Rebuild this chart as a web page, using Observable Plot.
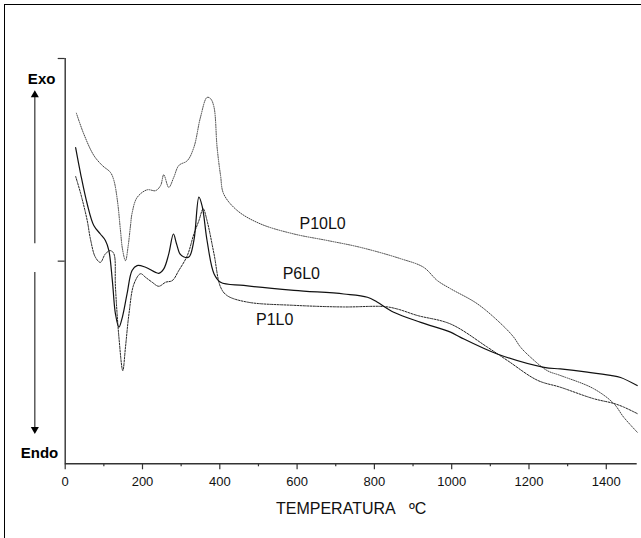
<!DOCTYPE html>
<html>
<head>
<meta charset="utf-8">
<script src="https://cdn.jsdelivr.net/npm/d3@7"></script>
<script src="https://cdn.jsdelivr.net/npm/@observablehq/plot@0.6"></script>
<style>
  html, body { margin: 0; padding: 0; background: #fff; overflow: hidden; width: 641px; height: 538px; }
  #wrap { position: relative; width: 641px; height: 538px; overflow: hidden; }
  #frame { position: absolute; left: 4px; top: 4px; width: 700px; height: 700px; border: 1.5px solid #000; pointer-events: none; }
  #chart { position: absolute; left: 0; top: 0; }
</style>
</head>
<body>
<div id="wrap"><div id="chart"></div><div id="frame"></div></div>
<script>
// DTA curves: temperature (ºC) and signal (arbitrary units)
const p10T = [29,48,74,96,117,126,135,143,148,156,163,169,173,186,212,234,247,255,268,281,294,316,333,350,367,376,385,393,402,410,445,505,592,678,764,868,927,963,997,1066,1127,1160,1178,1204,1247,1281,1366,1419,1445,1480];
const p10V = [86.5,81.4,76.1,73.6,71.9,69.9,65.0,57.6,53.1,50.1,53.8,58.8,61.8,65.7,67.6,67.4,68.7,71.3,68.2,70.7,73.6,74.8,78.1,85.5,90.4,90.1,88.0,78.1,71.1,66.6,62.5,59.2,56.7,55.1,53.4,50.6,48.5,45.2,43.2,39.5,34.6,31.3,28.8,26.3,23.0,21.8,18.6,14.9,11.5,7.8];

const p6T = [27,40,57,74,91,104,113,122,130,139,148,160,173,186,208,242,255,268,280,288,297,306,320,333,346,355,367,385,402,462,592,721,782,807,850,920,997,1023,1118,1239,1281,1351,1411,1437,1480];
const p6V = [78.0,71.5,64.1,58.8,56.7,55.1,52.6,45.2,37.0,33.7,36.2,41.9,47.7,48.9,48.5,47.0,48.1,51.8,56.7,54.3,51.8,51.1,51.0,55.1,65.8,63.3,55.1,46.9,44.8,44.0,42.8,41.9,41.1,39.9,37.4,34.9,32.5,31.2,27.1,23.8,23.4,22.6,21.8,21.3,19.3];

const p1T = [27,40,57,65,78,91,104,117,126,130,139,149,156,165,178,195,208,225,242,260,277,294,316,333,346,357,367,385,402,419,471,592,721,825,859,911,997,1092,1144,1222,1281,1366,1419,1445,1480];
const p1V = [70.9,66.7,60.0,55.6,51.0,49.7,51.8,52.6,51.8,43.6,31.2,23.0,28.8,37.0,44.4,46.9,46.0,44.8,43.8,44.8,45.2,47.7,51.4,56.7,60.0,62.9,60.0,51.8,43.6,41.5,39.9,39.1,38.7,38.8,38.2,36.6,34.5,28.8,25.5,20.6,18.9,16.1,14.9,14.0,12.4];

const seriesNames = ["P10L0", "P6L0", "P1L0"];
const labelT = [666, 611, 542];
const labelV = [59.3, 46.9, 35.4];

const majorTicks = [0, 200, 400, 600, 800, 1000, 1200, 1400];
const minorTicks = [100, 300, 500, 700, 900, 1100, 1300];
const yTicks = [50, 100];
const xLabel = "TEMPERATURA\u00a0\u00a0\u00a0ºC";

const toRows = (T, V) => T.map((t, i) => ({t, v: V[i]}));
const p10 = toRows(p10T, p10V);
const p6 = toRows(p6T, p6V);
const p1 = toRows(p1T, p1V);
const labels = seriesNames.map((name, i) => ({name, t: labelT[i], v: labelV[i]}));

const axisColor = "#333";
const font = "'Liberation Sans', Arial, Helvetica, sans-serif";

const chart = Plot.plot({
  width: 641,
  height: 538,
  marginLeft: 64.7,
  marginRight: 4.3,
  marginTop: 58,
  marginBottom: 74.7,
  style: {fontFamily: font, background: "transparent", color: "#000"},
  x: {domain: [0, 1480]},
  y: {domain: [0, 100]},
  marks: [
    Plot.axisX({ticks: majorTicks, tickSize: 6, tickPadding: 7, fontSize: 13, stroke: axisColor, strokeWidth: 1.2, label: null, tickFormat: d => String(d), fill: "#111"}),
    Plot.axisX({ticks: minorTicks, tickSize: 3, tickFormat: () => "", label: null, stroke: axisColor, strokeWidth: 1.2}),
    Plot.axisY({ticks: yTicks, tickSize: 7, tickFormat: () => "", label: null, stroke: axisColor, strokeWidth: 1.2}),
    Plot.ruleX([0], {y1: 0, y2: 100, stroke: axisColor, strokeWidth: 1.4}),
    Plot.ruleY([0], {x1: 0, x2: 1480, stroke: axisColor, strokeWidth: 1.4}),
    Plot.line(p10, {x: "t", y: "v", curve: "catmull-rom", stroke: "#444", strokeWidth: 1, strokeDasharray: "1,1.3"}),
    Plot.line(p1, {x: "t", y: "v", curve: "catmull-rom", stroke: "#222", strokeWidth: 1, strokeDasharray: "2,1.3"}),
    Plot.line(p6, {x: "t", y: "v", curve: "catmull-rom", stroke: "#111", strokeWidth: 1.2}),
    Plot.text(labels, {x: "t", y: "v", text: "name", fontSize: 16, fill: "#111"}),
    Plot.text([xLabel], {x: 740, y: -11, text: d => d, fontSize: 16, fill: "#111"}),
    Plot.text(["Exo"], {x: -61, y: 94.8, text: d => d, fontSize: 15, fontWeight: "bold", fill: "#000"}),
    Plot.text(["Endo"], {x: -66.5, y: 2.6, text: d => d, fontSize: 15, fontWeight: "bold", fill: "#000"}),
    Plot.link([{x1: -78.6, y1: 54.4, x2: -78.6, y2: 91}, {x1: -78.6, y1: 47.3, x2: -78.6, y2: 8.5}], {x1: "x1", y1: "y1", x2: "x2", y2: "y2", stroke: "#333", strokeWidth: 1.2}),
    Plot.dot([{x: -78.6, y: 91.0, r: 0}, {x: -78.6, y: 8.5, r: 180}], {x: "x", y: "y", rotate: "r", symbol: "triangle", r: 3, fill: "#000", stroke: "none"})
  ]
});
document.getElementById("chart").appendChild(chart);
</script>
</body>
</html>
